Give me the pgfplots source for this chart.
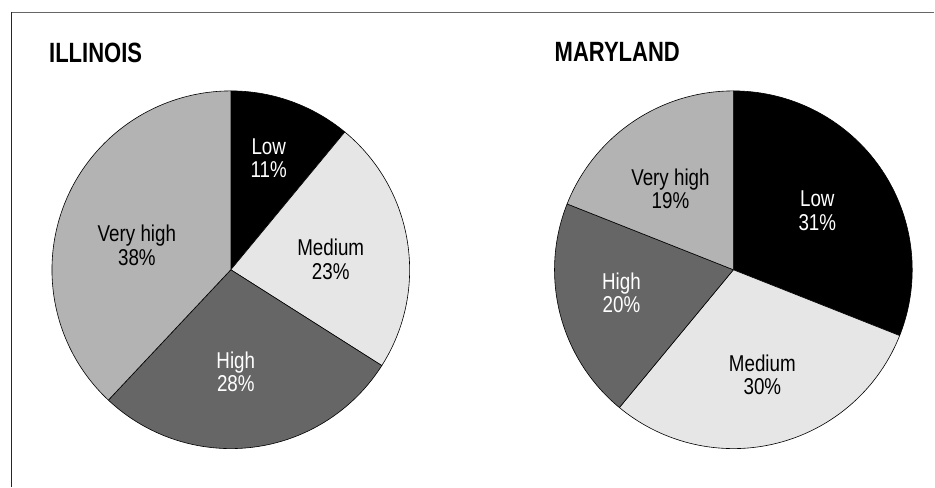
\documentclass[border=0pt]{standalone}
\usepackage{fontspec}
\setmainfont{Liberation Sans}[FakeStretch=0.82]
\newfontfamily\titlefont{Liberation Sans}[FakeStretch=0.79]
\usepackage{pgfplots}
\usepackage{pgfplotstable}
\pgfplotsset{compat=1.18}
\definecolor{cMed}{HTML}{E6E6E6}
\definecolor{cHigh}{HTML}{666666}
\definecolor{cVhigh}{HTML}{B3B3B3}
\definecolor{frameGray}{HTML}{666666}

% image-style coordinates: x to the right, y measured from the top (converted to 487-y)
\pgfplotstableread[col sep=comma]{
name,pct,fc,tc,lx,ly
Low,11,black,white,269,158.5
Medium,23,cMed,black,331,259.5
High,28,cHigh,white,236,372
Very high,38,cVhigh,black,137,245.5
}\illinois
\pgfplotstableread[col sep=comma]{
name,pct,fc,tc,lx,ly
Low,31,black,white,818,211
Medium,30,cMed,black,763,375
High,20,cHigh,white,622,293
Very high,19,cVhigh,black,671,189
}\maryland

\newcommand\labfont{\fontsize{23}{23.7}\selectfont}
\newcommand\ttlfont{\titlefont\bfseries\fontsize{28}{30}\selectfont}

% #1 table, #2 centre x, #3 centre y (pgf), #4 radius
\newcommand\drawpie[4]{%
  \pgfplotstablegetrowsof{#1}%
  \pgfmathtruncatemacro\nrows{\pgfplotsretval-1}%
  \gdef\cum{0}%
  \foreach \i in {0,...,\nrows}{%
    \pgfplotstablegetelem{\i}{pct}\of{#1}\let\pp\pgfplotsretval
    \pgfplotstablegetelem{\i}{fc}\of{#1}\let\fc\pgfplotsretval
    \pgfplotstablegetelem{\i}{tc}\of{#1}\let\tc\pgfplotsretval
    \pgfplotstablegetelem{\i}{name}\of{#1}\let\nm\pgfplotsretval
    \pgfplotstablegetelem{\i}{lx}\of{#1}\let\lx\pgfplotsretval
    \pgfplotstablegetelem{\i}{ly}\of{#1}\let\ly\pgfplotsretval
    \pgfmathsetmacro\aa{90-3.6*\cum}%
    \pgfmathsetmacro\bb{90-3.6*(\cum+\pp)}%
    \pgfmathsetmacro\lyy{487-\ly}%
    \filldraw[fill=\fc, draw=black, line width=0.6bp, line join=round]
      (axis cs:#2,#3) -- ++(\aa:#4bp) arc[start angle=\aa, end angle=\bb, radius=#4bp] -- cycle;
    \node[text=\tc, align=center, font=\labfont, inner sep=0pt] at (axis cs:\lx,\lyy) {\nm\\\pp\%};
    \pgfmathsetmacro\newcum{\cum+\pp}%
    \xdef\cum{\newcum}%
  }%
}

\begin{document}
\begin{tikzpicture}
\begin{axis}[
  x=1bp, y=1bp, scale only axis,
  xmin=0, xmax=935, ymin=0, ymax=487,
  hide axis, clip=false,
]
\pgfplotsextra{
  \path (axis cs:0,0) rectangle (axis cs:935,487);
  \draw[frameGray, line width=1.6bp] (axis cs:11,474.5) -- (axis cs:935,474.5);
  \draw[black!85, line width=1.1bp] (axis cs:11.7,475.3) -- (axis cs:11.7,0);
  \node[anchor=base west, inner sep=0pt, font=\ttlfont] at (axis cs:49,424) {ILLINOIS};
  \node[anchor=base west, inner sep=0pt, font=\ttlfont] at (axis cs:555,425) {MARYLAND};
  \drawpie{\illinois}{231}{217}{179}
  \drawpie{\maryland}{734}{217}{179}
}
\end{axis}
\end{tikzpicture}
\end{document}
